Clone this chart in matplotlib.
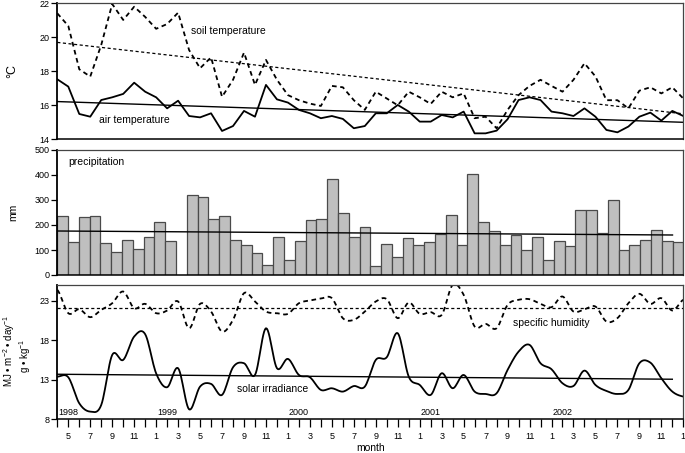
import numpy as np
import matplotlib
matplotlib.use("Agg")
import matplotlib.pyplot as plt

plt.rcParams['font.family'] = ['Liberation Sans', 'DejaVu Sans']
plt.rcParams['mathtext.fontset'] = 'custom'
plt.rcParams['mathtext.rm'] = 'Liberation Sans'
plt.rcParams['mathtext.it'] = 'Liberation Sans'

# ---------------- data (monthly, Apr 1998 .. Jan 2003) ----------------
month_numbers = [4, 5, 6, 7, 8, 9, 10, 11, 12,
                 1, 2, 3, 4, 5, 6, 7, 8, 9, 10, 11, 12,
                 1, 2, 3, 4, 5, 6, 7, 8, 9, 10, 11, 12,
                 1, 2, 3, 4, 5, 6, 7, 8, 9, 10, 11, 12,
                 1, 2, 3, 4, 5, 6, 7, 8, 9, 10, 11, 12,
                 1]
year_labels = ["1998", "1999", "2000", "2001", "2002"]

soil_temp = [21.41, 20.67, 18.12, 17.69, 19.55, 21.96, 21.02, 21.8, 21.2, 20.5,
             20.78, 21.45, 19.25, 18.18, 18.82, 16.5, 17.5, 19.1, 17.2, 18.67,
             17.5, 16.6, 16.3, 16.1, 15.96, 17.14, 17.06, 16.3, 15.73, 16.8,
             16.4, 16.0, 16.8, 16.47, 16.08, 16.8, 16.47, 16.7, 15.24, 15.33,
             14.65, 15.73, 16.6, 17.14, 17.5, 17.14, 16.8, 17.5, 18.47, 17.7,
             16.3, 16.3, 15.82, 16.86, 17.06, 16.7, 17.06, 16.4]
air_temp = [17.53, 17.1, 15.49, 15.33, 16.31, 16.47, 16.67, 17.33, 16.8, 16.47,
            15.82, 16.27, 15.37, 15.29, 15.53, 14.49, 14.78, 15.67, 15.33, 17.2,
            16.35, 16.16, 15.73, 15.53, 15.24, 15.37, 15.2, 14.65, 14.78, 15.53,
            15.53, 16.02, 15.63, 15.04, 15.04, 15.43, 15.29, 15.63, 14.35, 14.35,
            14.51, 15.18, 16.31, 16.47, 16.31, 15.63, 15.53, 15.37, 15.82, 15.33,
            14.55, 14.41, 14.75, 15.33, 15.57, 15.1, 15.67, 15.37]
soil_trend = [19.7, 15.5]
air_trend = [16.22, 15.0]

precipitation = [237, 131, 233, 236, 127, 93, 141, 105, 151, 212, 137, np.nan,
                 320, 313, 224, 236, 141, 119, 87, 40, 151, 60, 136, 221, 225,
                 384, 247, 153, 193, 37, 124, 73, 149, 120, 131, 165, 241, 120,
                 404, 213, 176, 121, 159, 100, 153, 60, 137, 115, 259, 259, 169,
                 300, 101, 119, 139, 180, 136, 131]
precip_trend = [176, 160]

humidity = [24.35, 21.4, 21.9, 20.9, 21.82, 22.66, 24.14, 22.03, 22.58, 21.4,
            21.74, 22.88, 19.5, 22.58, 21.61, 19.08, 20.56, 23.93, 22.88, 21.61,
            21.4, 21.32, 22.66, 23.0, 23.25, 23.3, 20.77, 20.56, 21.61, 22.88,
            23.17, 20.77, 22.75, 21.32, 21.53, 21.19, 24.98, 23.72, 19.72, 20.05,
            19.5, 22.45, 23.09, 23.17, 22.58, 22.16, 23.51, 21.61, 21.9, 22.24,
            20.35, 20.77, 22.66, 23.85, 22.58, 23.3, 21.74, 23.09]
solar = [13.39, 13.31, 10.02, 8.97, 9.81, 16.13, 15.5, 18.45, 18.75, 13.8,
         12.05, 14.45, 9.26, 12.13, 12.47, 11.08, 14.57, 15.08, 13.6, 19.5,
         14.45, 15.63, 13.6, 13.31, 11.71, 11.92, 11.5, 12.2, 12.13, 15.5,
         15.84, 18.87, 13.39, 12.34, 11.08, 13.82, 11.92, 13.6, 11.5, 11.2,
         11.29, 14.24, 16.55, 17.4, 15.08, 14.32, 12.55, 12.21, 14.15, 12.34,
         11.58, 11.2, 11.71, 15.08, 15.16, 13.18, 11.5, 10.87]
humidity_trend = [22.0, 22.0]
solar_trend = [13.69, 13.06]


def smooth(y, n=12):
    """Catmull-Rom curve through the monthly values (rendering only)."""
    y = np.asarray(y, float)
    p = np.concatenate([[y[0]], y, [y[-1]]])
    xs, ys = [], []
    t = np.linspace(0, 1, n, endpoint=False)
    for i in range(len(y) - 1):
        p0, p1, p2, p3 = p[i], p[i + 1], p[i + 2], p[i + 3]
        v = 0.5 * (2 * p1 + (-p0 + p2) * t + (2 * p0 - 5 * p1 + 4 * p2 - p3) * t ** 2
                   + (-p0 + 3 * p1 - 3 * p2 + p3) * t ** 3)
        xs.extend(i + t)
        ys.extend(v)
    xs.append(len(y) - 1)
    ys.append(y[-1])
    return np.array(xs), np.array(ys)


n = len(month_numbers)
x = np.arange(n)

W, H = 685, 453
fig = plt.figure(figsize=(W / 100, H / 100), dpi=100)


def px_axes(x0, y0, x1, y1):
    return fig.add_axes([x0 / W, 1 - y1 / H, (x1 - x0) / W, (y1 - y0) / H])


ax1 = px_axes(57.3, 3.3, 683.3, 139.3)
ax2 = px_axes(57.3, 150, 683.3, 275)
ax3 = px_axes(57.3, 284.7, 683.3, 419.3)

tick_fs = 6.5
lab_fs = 7.5
dash = (0, (2.6, 2.0))

for ax in (ax1, ax2, ax3):
    for s in ('top', 'right'):
        ax.spines[s].set_color('#444444')
        ax.spines[s].set_linewidth(0.9)
    ax.spines['left'].set_color('black')
    ax.spines['left'].set_linewidth(1.3)
    ax.spines['bottom'].set_color('black')
    ax.spines['bottom'].set_linewidth(1.1)
    ax.tick_params(axis='y', direction='out', length=4, width=0.9,
                   labelsize=tick_fs, pad=1.5, colors='black')
    ax.tick_params(axis='x', bottom=False, labelbottom=False)

# ---------------- top panel: temperatures ----------------
ax1.plot(x, soil_temp, color='black', lw=1.3, ls=dash)
ax1.plot(x, air_temp, color='black', lw=1.3)
ax1.plot([x[0], x[-1]], soil_trend, color='black', lw=0.9, ls=(0, (2.5, 2.0)))
ax1.plot([x[0], x[-1]], air_trend, color='black', lw=1.0)
ax1.set_xlim(0, n - 1)
ax1.set_ylim(14, 22)
ax1.set_yticks([14, 16, 18, 20, 22])
ax1.text(12.2, 20.4, 'soil temperature', fontsize=lab_fs, va='center')
ax1.text(3.8, 15.15, 'air temperature', fontsize=lab_fs, va='center')
ax1.set_ylabel('°C', fontsize=9)
ax1.yaxis.set_label_coords(-0.062, 0.5)

# ---------------- middle panel: precipitation ----------------
xb = np.arange(len(precipitation))
ax2.bar(xb, precipitation, width=1.0, align='edge', color='#bfbfbf',
        edgecolor='#4a4a4a', linewidth=0.9)
ax2.plot([xb[0], xb[-1]], precip_trend, color='black', lw=1.0)
ax2.set_xlim(0, len(precipitation))
ax2.set_ylim(0, 500)
ax2.set_yticks([0, 100, 200, 300, 400, 500])
ax2.text(1.0, 450, 'precipitation', fontsize=lab_fs, va='center')
ax2.set_ylabel('mm', fontsize=lab_fs)
ax2.yaxis.set_label_coords(-0.062, 0.5)

# ---------------- bottom panel: humidity and solar ----------------
hx, hy = smooth(humidity)
sx, sy = smooth(solar)
ax3.plot(hx, hy, color='black', lw=1.3, ls=dash)
ax3.plot(sx, sy, color='black', lw=1.3)
ax3.plot([x[0], x[-1]], humidity_trend, color='black', lw=0.9, ls=(0, (2.5, 2.0)))
ax3.plot([x[0], x[-2]], solar_trend, color='black', lw=1.0)
ax3.set_xlim(0, n - 1)
ax3.set_ylim(8, 25)
ax3.set_yticks([8, 13, 18, 23])
ax3.text(41.5, 20.2, 'specific humidity', fontsize=lab_fs, va='center')
ax3.text(16.4, 11.8, 'solar irradiance', fontsize=lab_fs, va='center')

# two-line y label of the bottom panel
fig.text(9.0 / W, 1 - 351 / H, 'MJ • m$^{-2}$ • day$^{-1}$', fontsize=7,
         rotation=90, ha='center', va='center')
fig.text(25.5 / W, 1 - 356 / H, 'g • kg$^{-1}$', fontsize=7,
         rotation=90, ha='center', va='center')

ax3.tick_params(axis='x', bottom=True, labelbottom=True, direction='out',
                length=5.4, width=0.9, labelsize=tick_fs, pad=3.5)
ax3.set_xticks(x)
ax3.set_xticklabels([str(m) if i % 2 == 1 else '' for i, m in enumerate(month_numbers)])
ax3.set_xlabel('month', fontsize=lab_fs, labelpad=1.5)

year_pos = [0] + [i for i, m in enumerate(month_numbers) if m == 1][:len(year_labels) - 1]
for yl, xp in zip(year_labels, year_pos):
    ax3.text(xp + 0.1, 8.3, yl, fontsize=tick_fs, ha='left', va='bottom')

fig.savefig('out.png', dpi=100)
